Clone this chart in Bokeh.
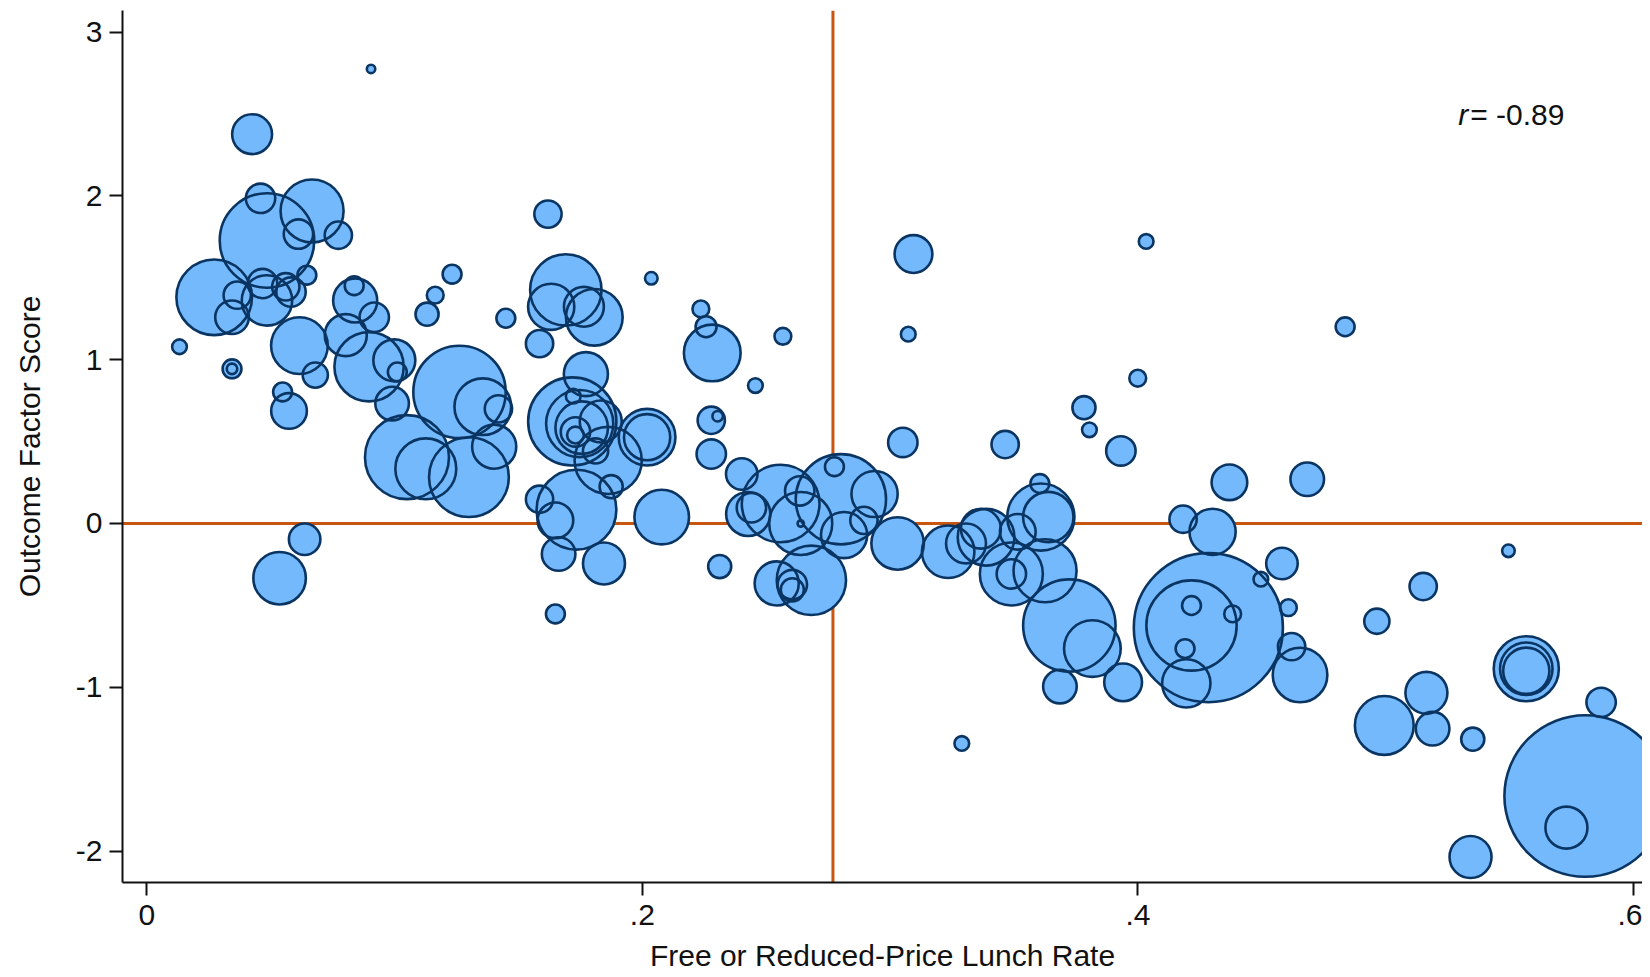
import math
from bokeh.plotting import figure
from bokeh.models import (Range1d, Span, Label, FixedTicker,
                          CustomJSTickFormatter, ColumnDataSource)
from bokeh.embed import file_html
from bokeh.resources import INLINE

# ---- data: free/reduced-price lunch rate, outcome factor score, weight ----
frl_rate = [
    0.0905, 0.0425, 0.0459, 0.0667, 0.0485, 0.0612, 0.0773, 0.0272, 0.0344, 0.0365,
    0.0485, 0.0467, 0.0561, 0.0582, 0.0646, 0.0132, 0.0344, 0.0344, 0.0616, 0.0680,
    0.0548, 0.0574, 0.0837, 0.0841, 0.0918, 0.0803, 0.0897, 0.0999, 0.1011, 0.0990,
    0.1232, 0.1164, 0.1131, 0.1449, 0.1262, 0.1356, 0.1419, 0.1050, 0.1126, 0.1300,
    0.1402, 0.0536, 0.0637,
    0.1619, 0.1691, 0.1632, 0.1806, 0.1764, 0.1585, 0.2036, 0.1772, 0.1717, 0.1747,
    0.1755, 0.1730, 0.1730, 0.1832, 0.1811, 0.1862, 0.2019, 0.2019, 0.1734, 0.1585,
    0.1649, 0.1874, 0.1662, 0.1845, 0.1649, 0.2078, 0.1721, 0.2282, 0.2236, 0.2257,
    0.2456, 0.2567, 0.2278, 0.2304, 0.2278, 0.2312,
    0.2401, 0.2558, 0.2427, 0.2440, 0.2635, 0.2801, 0.2775, 0.2937, 0.2894, 0.2639,
    0.2639, 0.2814, 0.3030, 0.2542, 0.2682, 0.2605, 0.2605, 0.3094, 0.3073, 0.3051,
    0.3234, 0.3306, 0.3366, 0.3387, 0.3489, 0.3489, 0.3515, 0.3608, 0.3638, 0.3604,
    0.3625, 0.3723, 0.3816, 0.3685, 0.3940, 0.3464, 0.3782, 0.3804, 0.3931, 0.3289,
    0.4033, 0.3999,
    0.4284, 0.4216, 0.4216, 0.4382, 0.4190, 0.4195, 0.4182, 0.4301, 0.4369, 0.4496,
    0.4581, 0.4607, 0.4620, 0.4654, 0.4683, 0.4836,
    0.5495, 0.4964, 0.5151, 0.4994, 0.5164, 0.5189, 0.5351, 0.5567, 0.5567, 0.5567,
    0.5869, 0.5805, 0.5729, 0.5342,
]

outcome_score = [
    2.775, 2.377, 1.985, 1.908, 1.728, 1.767, 1.760, 1.381, 1.259, 1.394,
    1.362, 1.465, 1.445, 1.413, 1.516, 1.079, 0.944, 0.944, 1.086, 0.906,
    0.803, 0.687, 1.452, 1.362, 1.259, 1.150, 0.957, 0.996, 0.925, 0.732,
    1.522, 1.394, 1.278, 1.253, 0.803, 0.713, 0.700, 0.405, 0.334, 0.283,
    0.469, -0.334, -0.096,
    1.889, 1.426, 1.323, 1.259, 1.323, 1.098, 1.497, 0.912, 0.623, 0.610,
    0.585, 0.559, 0.540, 0.623, 0.443, 0.385, 0.527, 0.527, 0.084, 0.148,
    0.019, 0.225, -0.186, -0.244, -0.552, 0.039, 0.777, 1.041, 1.310, 1.201,
    0.842, 1.143, 0.630, 0.655, 0.424, -0.263,
    0.302, 0.122, 0.058, 0.096, 0.199, 0.148, 0.347, 0.180, 0.019, 0.000,
    0.000, -0.071, -0.122, -0.366, -0.347, -0.373, -0.405, 1.645, 1.156, 0.495,
    -0.173, -0.122, -0.032, -0.084, -0.308, -0.308, -0.051, 0.039, 0.039, 0.244,
    -0.289, -0.623, -0.764, -0.996, -0.970, 0.482, 0.707, 0.572, 0.443, -1.343,
    1.722, 0.887,
    -0.636, -0.623, -0.501, -0.552, -0.764, -0.976, 0.026, -0.051, 0.251, -0.340,
    -0.244, -0.514, -0.752, -0.925, 0.270, 1.201,
    -0.167, -0.597, -0.385, -1.233, -1.034, -1.253, -1.317, -0.887, -0.887, -0.899,
    -1.092, -1.664, -1.857, -2.036,
]

enrollment = [
    16, 361, 196, 900, 2025, 196, 169, 1296, 256, 169,
    576, 196, 169, 196, 81, 49, 81, 25, 729, 144,
    81, 289, 81, 441, 196, 400, 1089, 400, 81, 256,
    81, 64, 121, 81, 1936, 729, 169, 1600, 841, 1444,
    441, 625, 225,
    169, 1156, 484, 729, 361, 169, 36, 441, 1764, 1024,
    625, 196, 64, 400, 144, 1024, 729, 484, 1444, 169,
    289, 121, 256, 400, 81, 676, 49, 729, 64, 100,
    49, 64, 169, 25, 196, 121,
    225, 1369, 441, 196, 196, 1849, 81, 484, 169, 900,
    9, 484, 625, 441, 1089, 196, 121, 324, 49, 196,
    625, 361, 361, 729, 900, 196, 289, 1024, 576, 81,
    900, 1936, 729, 256, 324, 169, 121, 49, 196, 49,
    49, 64,
    5041, 1849, 81, 64, 81, 529, 169, 484, 289, 49,
    225, 64, 169, 676, 256, 81,
    36, 144, 169, 784, 400, 256, 121, 961, 625, 484,
    196, 5929, 400, 400,
]

x_ticks = [0, 0.2, 0.4, 0.6]
y_ticks = [-2, -1, 0, 1, 2, 3]
frl_mean = 0.2769
r_value = "-0.89"

# ---- styling ----
FONT = "Liberation Sans"
FS = "30px"
FILL = "#74B9FC"
EDGE = "#0A3563"
ORANGE = "#C9560F"
TXT = "#111111"
SIZE_SCALE = 2.1

sizes = [SIZE_SCALE * math.sqrt(w) for w in enrollment]
src = ColumnDataSource(dict(x=frl_rate, y=outcome_score, s=sizes))

p = figure(width=1642, height=976,
           x_range=Range1d(-0.0098, 0.6036), y_range=Range1d(-2.192, 3.132),
           output_backend="svg", toolbar_location=None,
           min_border_left=122, min_border_right=0, min_border_top=10,
           min_border_bottom=94)
p.outline_line_color = None
p.background_fill_color = "white"
p.border_fill_color = "white"
p.xgrid.visible = False
p.ygrid.visible = False

# reference lines behind the bubbles
p.add_layout(Span(location=frl_mean, dimension="height", line_color=ORANGE,
                  line_width=3, level="underlay"))
p.add_layout(Span(location=0, dimension="width", line_color=ORANGE,
                  line_width=3, level="underlay"))

# fills first, outlines on top (all outlines visible)
p.scatter("x", "y", size="s", source=src, marker="circle",
          fill_color=FILL, fill_alpha=1.0, line_color=None)
p.scatter("x", "y", size="s", source=src, marker="circle",
          fill_color=None, line_color=EDGE, line_width=2.6)

# axes
for ax in (p.xaxis[0], p.yaxis[0]):
    ax.axis_line_color = TXT
    ax.axis_line_width = 2
    ax.major_tick_line_color = TXT
    ax.major_tick_line_width = 2
    ax.major_tick_out = 13
    ax.major_tick_in = 0
    ax.minor_tick_line_color = None
    ax.major_label_text_font = FONT
    ax.major_label_text_font_size = FS
    ax.major_label_text_color = TXT
    ax.axis_label_text_font = FONT
    ax.axis_label_text_font_size = FS
    ax.axis_label_text_font_style = "normal"
    ax.axis_label_text_color = TXT

p.xaxis.ticker = FixedTicker(ticks=x_ticks)
p.xaxis.formatter = CustomJSTickFormatter(
    code="return tick === 0 ? '0' : tick.toFixed(1).replace('0.', '.');")
p.xaxis.axis_label = "Free or Reduced-Price Lunch Rate"
p.xaxis.major_label_standoff = 9
p.xaxis.axis_label_standoff = 11

p.yaxis.ticker = FixedTicker(ticks=y_ticks)
p.yaxis.formatter = CustomJSTickFormatter(code="return tick.toFixed(0);")
p.yaxis.axis_label = "Outcome Factor Score"
p.yaxis.major_label_standoff = 7
p.yaxis.axis_label_standoff = 27

# correlation annotation
p.add_layout(Label(x=0.5292, y=2.497, text="r", text_font=FONT,
                   text_font_size=FS, text_font_style="italic",
                   text_color=TXT, text_baseline="alphabetic"))
p.add_layout(Label(x=0.5292, y=2.497, x_offset=12, text="= " + r_value,
                   text_font=FONT, text_font_size=FS, text_color=TXT,
                   text_baseline="alphabetic"))

open("out.html", "w").write(file_html(p, INLINE))
